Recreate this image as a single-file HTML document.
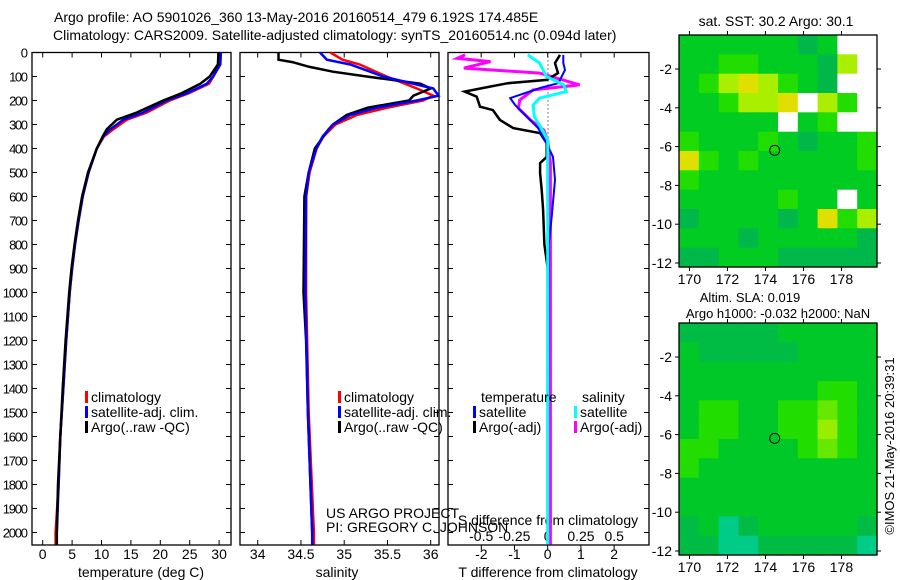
<!DOCTYPE html>
<html><head><meta charset="utf-8"><style>
body{margin:0;background:#fff}
svg{display:block;font-family:"Liberation Sans",sans-serif;font-size:14px}
</style></head><body>
<svg id="fig" width="900" height="580" viewBox="0 0 900 580">
<rect width="900" height="580" fill="#fff"/>
<text x="54" y="22" text-anchor="start">Argo profile: AO 5901026_360 13-May-2016 20160514_479 6.192S 174.485E</text>
<text x="53" y="40" text-anchor="start">Climatology: CARS2009. Satellite-adjusted climatology: synTS_20160514.nc (0.094d later)</text>
<g id="g"></g>
<text transform="translate(894,446) rotate(-90)" text-anchor="middle" font-size="13">©IMOS 21-May-2016 20:39:31</text>
</svg>
<script>
// ---- profile data ----
const depths = [0,50,100,130,170,200,250,280,320,350,400,500,600,700,800,900,1000,1200,1400,1600,1800,2000,2050];
const tempClim = [29.9,29.9,29.0,28.3,24.8,21.6,17.7,14.3,12.0,10.4,9.2,7.8,6.8,6.1,5.5,5.0,4.6,4.0,3.5,3.0,2.7,2.2,2.2];
const tempSat  = [30.3,30.2,29.0,27.9,24.5,21.1,17.1,13.7,11.5,10.3,9.2,7.8,6.8,6.1,5.5,5.0,4.6,4.0,3.5,3.0,2.7,2.4,2.4];
const tempArgo = [29.9,29.8,28.4,26.8,23.6,20.5,16.0,12.6,10.9,10.2,9.2,7.7,6.7,6.0,5.4,4.9,4.5,3.9,3.4,3.0,2.6,2.4,2.4];
const salDepth = [0,30,50,100,150,180,200,230,260,300,350,400,500,600,1000,1500,2000,2050];
const salClim = [34.84,34.98,35.18,35.49,35.84,36.03,35.91,35.5,35.15,34.9,34.76,34.68,34.6,34.56,34.56,34.59,34.65,34.65];
const salSat  = [34.72,34.8,35.07,35.45,36.03,36.09,35.84,35.38,35.07,34.87,34.75,34.68,34.59,34.56,34.55,34.58,34.63,34.63];
const argoSDepth = [0,30,40,60,80,100,130,150,180,200,230,260,300,320,400,500,600,1000,1200,1500,2000];
const salArgo = [34.24,34.24,34.4,34.6,34.87,35.26,35.88,36.0,35.8,35.75,35.27,35.03,34.87,34.82,34.66,34.59,34.54,34.53,34.56,34.58,34.63];
const dTDepth = [10,44,86,114,128,142,163,184,226,240,281,315,336,378,435,461,503,573,656,800,900,2050];
const dTArgo = [0.37,0.22,0.31,-0.03,-1.2,-1.74,-2.5,-2.14,-2.04,-1.65,-1.44,-1.04,-0.23,-0.03,-0.03,-0.23,-0.23,-0.18,-0.14,-0.1,0,0];
const dTSatDepth = [10,44,73,128,148,190,219,273,315,365,435,531,685,800,2050];
const dTSat = [0.47,0.47,0.52,0.32,-0.23,-1.13,-0.98,-0.59,-0.29,-0.08,0.16,0.22,0.12,0.03,0.0];
const dSDepth = [10,24,38,65,86,135,156,198,232,281,323,365,461,2050];
const dSArgo = [-0.62,-0.68,-0.43,-0.63,-0.06,0.24,-0.11,-0.21,-0.22,-0.13,-0.03,0,0.02,0.02];
const dSSatDepth = [10,44,100,135,163,190,219,268,323,365,2050];
const dSSat = [-0.15,-0.06,-0.01,0.12,0.14,-0.06,-0.11,-0.1,-0.04,0,0];
const depthTicks = [0,100,200,300,400,500,600,700,800,900,1000,1100,1200,1300,1400,1500,1600,1700,1800,1900,2000];
const tempTicks = [0,5,10,15,20,25,30];
const salTicks = [34,34.5,35,35.5,36];
const dTTicks = [-2,-1,0,1,2];
const dSTicks = ["-0.5","-0.25","0","0.25","0.5"];
// ---- map data (color class per ~1deg cell) ----
const sstGrid = [
[1,1,1,1,1,1,0,1,9,9],[1,1,2,2,1,1,1,0,3,9],[1,2,3,4,3,2,1,0,9,9],[1,1,2,3,3,4,9,3,2,9],
[1,1,1,1,1,9,1,2,9,9],[2,1,1,1,2,1,0,1,1,2],[4,2,1,2,1,1,1,1,1,2],[2,1,1,1,1,1,1,1,1,1],
[1,1,1,1,1,2,1,1,9,1],[0,1,1,1,1,0,1,4,2,3],[1,1,1,0,1,1,1,1,1,0],[0,0,1,1,1,0,0,0,0,0]];
const slaGrid = [
[0,0,0,0,0,1,1,1,1,1],[1,0,0,0,0,0,1,1,1,1],[1,1,1,1,1,1,1,1,1,1],[1,1,1,1,1,1,1,2,2,1],
[1,2,2,1,1,2,2,3,2,1],[1,2,2,1,1,2,2,4,2,1],[2,2,1,1,1,1,2,3,2,1],[2,1,1,1,1,1,1,1,1,1],
[1,1,1,1,1,1,1,1,1,1],[1,1,1,1,1,1,1,1,1,1],[0,1,5,0,1,1,1,1,1,0],[0,0,5,5,0,0,0,0,0,5]];
const lonTicks = [170,172,174,176,178];
const latTicks = [-2,-4,-6,-8,-10,-12];
const argoLon = 174.485, argoLat = -6.192;

const NS="http://www.w3.org/2000/svg";
const G=document.getElementById('g');
function el(tag,attrs,parent){const e=document.createElementNS(NS,tag);for(const k in attrs)e.setAttribute(k,attrs[k]);(parent||G).appendChild(e);return e;}
function txt(x,y,s,anchor,parent){const t=el('text',{x:x,y:y,'text-anchor':anchor||'middle'},parent);t.textContent=s;return t;}
const Y0=52.5, YS=0.24, YB=545;
const yD=d=>Y0+d*YS;
function panel(x0,x1,name){
  const g=el('g',{});
  
  
  const r=el('rect',{x:x0,y:Y0,width:x1-x0,height:YB-Y0,fill:'none',stroke:'#000','stroke-width':1.3},g);
  
  
  depthTicks.forEach(d=>{el('line',{x1:x0,x2:x0+5,y1:yD(d),y2:yD(d),stroke:'#000'},g);el('line',{x1:x1-5,x2:x1,y1:yD(d),y2:yD(d),stroke:'#000'},g);});
  return g;
}
function line(xs,ds,fx,color,w,parent,name){
  const p=el('polyline',{points:xs.map((v,i)=>fx(v).toFixed(1)+','+yD(ds[i]).toFixed(1)).join(' '),fill:'none',stroke:color,'stroke-width':w,'stroke-linejoin':'miter'},parent);
  
  
}
depthTicks.forEach(d=>{const t=txt(28,yD(d)+5,String(d),'end');t.setAttribute('font-size','13');t.setAttribute('textLength',String(d).length*6.3);});
// Panel 1
const xT=v=>42.7+5.88*v;
const p1=panel(32,231,'temperature-panel');
tempTicks.forEach(v=>{el('line',{x1:xT(v),x2:xT(v),y1:YB,y2:YB-5,stroke:'#000'},p1);el('line',{x1:xT(v),x2:xT(v),y1:Y0,y2:Y0+5,stroke:'#000'},p1);txt(xT(v),559,String(v),'middle',p1);});
txt(141,577,'temperature (deg C)','middle',p1);
line(tempClim,depths,xT,'#f00',2.5,p1,'temp-climatology-line');
line(tempSat,depths,xT,'#00f',2.5,p1,'temp-satellite-line');
line(tempArgo,depths,xT,'#000',2.5,p1,'temp-argo-line');
// Panel 2
const xS=v=>257.7+86.5*(v-34);
const p2=panel(240,439,'salinity-panel');
salTicks.forEach(v=>{el('line',{x1:xS(v),x2:xS(v),y1:YB,y2:YB-5,stroke:'#000'},p2);el('line',{x1:xS(v),x2:xS(v),y1:Y0,y2:Y0+5,stroke:'#000'},p2);txt(xS(v),559,String(v),'middle',p2);});
txt(337,577,'salinity','middle',p2);
line(salClim,salDepth,xS,'#f00',2.5,p2,'sal-climatology-line');
line(salArgo,argoSDepth,xS,'#000',2.5,p2,'sal-argo-line');
line(salSat,salDepth,xS,'#00f',2.5,p2,'sal-satellite-line');
txt(326,518,'US ARGO PROJECT','start',p2);
txt(326,532,'PI: GREGORY C. JOHNSON','start',p2);
function leg(x,y,c,s,p){el('rect',{x:x,y:y-11,width:3,height:12,fill:c},p);txt(x+6,y,s,'start',p);}
leg(85,402,'#f00','climatology',p1);leg(85,417,'#00f','satellite-adj. clim.',p1);leg(85,432,'#000','Argo(..raw -QC)',p1);
leg(338,402,'#f00','climatology',p2);leg(338,417,'#00f','satellite-adj. clim.',p2);leg(338,432,'#000','Argo(..raw -QC)',p2);
// Panel 3
const xdT=v=>547.7+33.2*v, xdS=v=>547.7+133*v;
const p3=panel(448,649,'difference-panel');
el('line',{x1:548,x2:548,y1:Y0,y2:YB,stroke:'#000','stroke-dasharray':'1,3'},p3);
dTTicks.forEach(v=>{el('line',{x1:xdT(v),x2:xdT(v),y1:YB,y2:YB+5,stroke:'#000'},p3);txt(xdT(v),559,String(v),'middle',p3);});
dSTicks.forEach(s=>{const v=parseFloat(s);el('line',{x1:xdS(v),x2:xdS(v),y1:Y0,y2:Y0+5,stroke:'#000'},p3);txt(xdS(v),541,s,'middle',p3);});
txt(548,525,'S difference from climatology','middle',p3);
txt(548,577,'T difference from climatology','middle',p3);
line(dSArgo,dSDepth,xdS,'#f0f',3,p3,'s-argo-diff-line');
line(dTArgo,dTDepth,xdT,'#000',2.5,p3,'t-argo-diff-line');
line(dTSat,dTSatDepth,xdT,'#00f',2,p3,'t-satellite-diff-line');
line(dSSat,dSSatDepth,xdS,'#0ff',3,p3,'s-satellite-diff-line');
txt(481,402,'temperature','start',p3);txt(582,402,'salinity','start',p3);
leg(473,417,'#00f','satellite',p3);leg(473,432,'#000','Argo(-adj)',p3);
leg(574,417,'#0ff','satellite',p3);leg(574,432,'#f0f','Argo(-adj)',p3);
// Maps
const MX0=679,MX1=877,LON0=169.45,PXL=19.0,PYL=19.4;
function map(top,grid,colors,name,botLabelY){
  const g=el('g',{});
  
  
  const H=232, ry=H/grid.length, rx=(MX1-MX0)/grid[0].length;
  grid.forEach((row,i)=>row.forEach((c,j)=>{const r=el('rect',{x:(MX0+j*rx).toFixed(1),y:(top+i*ry).toFixed(1),width:(rx+0.6).toFixed(1),height:(ry+0.6).toFixed(1),fill:colors[c]},g);}));
  const fx=lon=>MX0+(lon-LON0)*PXL, fy=lat=>top+34+(-2-lat)*PYL;
  el('rect',{x:MX0,y:top,width:MX1-MX0,height:H,fill:'none',stroke:'#000','stroke-width':1.3},g);
  lonTicks.forEach(v=>{el('line',{x1:fx(v),x2:fx(v),y1:top,y2:top-4,stroke:'#000'},g);el('line',{x1:fx(v),x2:fx(v),y1:top+H,y2:top+H+4,stroke:'#000'},g);txt(fx(v),botLabelY,String(v),'middle',g);});
  latTicks.forEach(v=>{el('line',{x1:MX0-4,x2:MX0,y1:fy(v),y2:fy(v),stroke:'#000'},g);el('line',{x1:MX1,x2:MX1+4,y1:fy(v),y2:fy(v),stroke:'#000'},g);txt(672,fy(v)+5,String(v),'end',g);});
  const c=el('circle',{cx:fx(argoLon),cy:fy(argoLat),r:5,fill:'none',stroke:'#000'},g);
  
  
  return g;
}
const sstColors={0:'#00b84a',1:'#00cc22',2:'#22dd00',3:'#aaee00',4:'#e0e000',9:'#ffffff'};
const slaColors={0:'#00bb44',1:'#00c828',2:'#22dd00',3:'#66e800',4:'#99ee00',5:'#00cc88'};
const m1=map(35,sstGrid,sstColors,'sst-map',284);
txt(776,26,'sat. SST: 30.2 Argo: 30.1','middle',m1);
const m2=map(323,slaGrid,slaColors,'sla-map',572);
const a1=txt(750,302,'Altim. SLA: 0.019','middle',m2);a1.setAttribute('font-size','13');
const a2=txt(778,318,'Argo h1000: -0.032 h2000: NaN','middle',m2);a2.setAttribute('font-size','13');
</script>
</body></html>
